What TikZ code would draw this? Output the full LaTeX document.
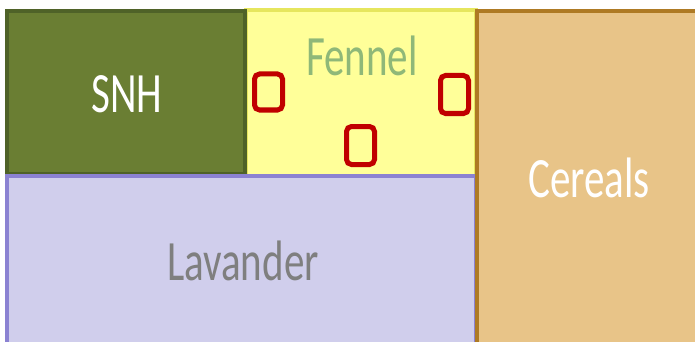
\documentclass[tikz,border=0pt]{standalone}
\usepackage{fontspec}
\newfontfamily\lbl[FakeStretch=0.72]{Carlito}
\definecolor{snhfill}{RGB}{106,126,51}
\definecolor{snhline}{RGB}{79,98,40}
\definecolor{fenfill}{RGB}{255,255,153}
\definecolor{fenline}{RGB}{230,230,94}
\definecolor{fentext}{RGB}{143,184,120}
\definecolor{lavfill}{RGB}{208,206,236}
\definecolor{lavline}{RGB}{139,130,210}
\definecolor{lavtext}{RGB}{127,127,127}
\definecolor{cerfill}{RGB}{232,196,136}
\definecolor{cerline}{RGB}{174,122,36}
\definecolor{trap}{RGB}{192,0,0}
\begin{document}
\begin{tikzpicture}[x=1pt,y=-1pt,
  plot/.style={line width=4pt},
  trapbox/.style={draw=trap,line width=5pt,rounded corners=5pt},
  lab/.style={inner sep=0pt,anchor=base,font=\lbl\fontsize{57}{60}\selectfont}]
\useasboundingbox (0,0) rectangle (695,342);
\clip (0,0) rectangle (695,342);
\fill[white] (0,0) rectangle (695,342);
% Fennel
\draw[plot,draw=fenline,fill=fenfill] (246,10.5) rectangle (476,176);
% SNH
\draw[plot,draw=snhline,fill=snhfill] (7,11) rectangle (245,173.5);
% Lavander
\draw[plot,draw=lavline,fill=lavfill] (7,176) rectangle (476,360);
% Cereals
\draw[plot,draw=cerline,fill=cerfill] (477,11) rectangle (710,360);
% traps
\draw[trapbox] (254.5,74) rectangle (282.5,110);
\draw[trapbox] (440.5,75.5) rectangle (468.5,113.5);
\draw[trapbox] (346.5,126.5) rectangle (374.5,164.5);
% labels
\node[lab,text=white] (snh) at (127,113) {SNH};
\node[lab,text=fentext] (fen) at (362,76) {Fennel};
\node[lab,text=lavtext] (lav) at (243,280) {Lavander};
\node[lab,text=white] (cer) at (589,197) {Cereals};
\end{tikzpicture}
\end{document}
